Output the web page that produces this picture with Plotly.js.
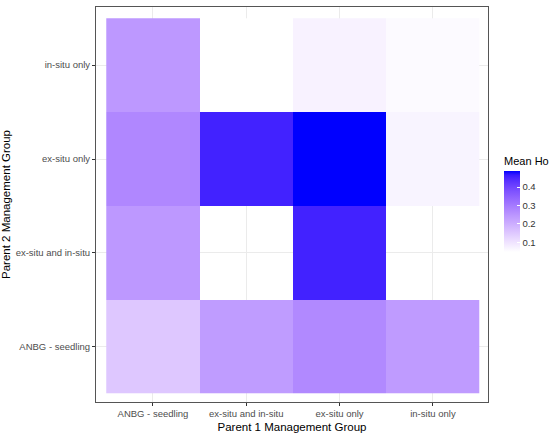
<!DOCTYPE html>
<html>
<head>
<meta charset="utf-8">
<script src="https://cdn.plot.ly/plotly-3.0.1.min.js"></script>
<style>
  html, body { margin: 0; padding: 0; background: #fff; }
  #heatmap { width: 550px; height: 434px; }
</style>
</head>
<body>
<div id="heatmap"></div>
<script>
// kategori management group (dipakai untuk kedua sumbu)
var groups = ['ANBG - seedling', 'ex-situ and in-situ', 'ex-situ only', 'in-situ only'];

// Mean Ho per baris Parent 2, urutan kolom mengikuti Parent 1 (groups)
var hoP2Anbg    = [0.155, 0.239, 0.274, 0.241];
var hoP2ExIn    = [0.246, null,  0.459, null ];
var hoP2ExOnly  = [0.278, 0.459, 0.49,  0.071];
var hoP2InSitu  = [0.246, 0.05,  0.073, 0.059];

var colorbarTicks = [0.1, 0.2, 0.3, 0.4];

// gradien putih -> biru diinterpolasi di ruang Lab (mirip scale_fill_gradient)
function toLab(c) {
    var lin = c.map(function (v) {
        v = v / 255;
        return v <= 0.04045 ? v / 12.92 : Math.pow((v + 0.055) / 1.055, 2.4);
    });
    var X = (0.4124 * lin[0] + 0.3576 * lin[1] + 0.1805 * lin[2]) / 0.95047;
    var Y = (0.2126 * lin[0] + 0.7152 * lin[1] + 0.0722 * lin[2]);
    var Z = (0.0193 * lin[0] + 0.1192 * lin[1] + 0.9505 * lin[2]) / 1.08883;
    var f = function (t) { return t > 0.008856 ? Math.cbrt(t) : 7.787 * t + 16 / 116; };
    return [116 * f(Y) - 16, 500 * (f(X) - f(Y)), 200 * (f(Y) - f(Z))];
}
function fromLab(l) {
    var fy = (l[0] + 16) / 116, fx = fy + l[1] / 500, fz = fy - l[2] / 200;
    var inv = function (t) { return t * t * t > 0.008856 ? t * t * t : (t - 16 / 116) / 7.787; };
    var X = inv(fx) * 0.95047, Y = inv(fy), Z = inv(fz) * 1.08883;
    var lin = [
        3.2406 * X - 1.5372 * Y - 0.4986 * Z,
        -0.9689 * X + 1.8758 * Y + 0.0415 * Z,
        0.0557 * X - 0.2040 * Y + 1.0570 * Z
    ];
    var rgb = lin.map(function (v) {
        v = Math.min(1, Math.max(0, v));
        v = v <= 0.0031308 ? 12.92 * v : 1.055 * Math.pow(v, 1 / 2.4) - 0.055;
        return Math.round(v * 255);
    });
    return 'rgb(' + rgb.join(',') + ')';
}
var lo = toLab([255, 255, 255]), hi = toLab([0, 0, 255]);
var scale = [];
for (var i = 0; i <= 20; i++) {
    var t = i / 20;
    scale.push([t, fromLab([0, 1, 2].map(function (k) { return lo[k] + (hi[k] - lo[k]) * t; }))]);
}

var data = [{
    type: 'heatmap',
    x: groups,
    y: groups,
    z: [hoP2Anbg, hoP2ExIn, hoP2ExOnly, hoP2InSitu],
    colorscale: scale,
    hoverongaps: false,
    colorbar: {
        title: { text: 'Mean Ho', side: 'top', font: { size: 11, color: '#000' } },
        x: 1.041, xanchor: 'left', xpad: 0,
        y: 0.505, yanchor: 'middle', ypad: 0,
        lenmode: 'pixels', len: 98,
        thickness: 16,
        outlinewidth: 0,
        ticks: 'inside', ticklen: 3, tickcolor: '#fff',
        tickvals: colorbarTicks,
        tickfont: { size: 9.5, color: '#333' }
    }
}];

var layout = {
    width: 550,
    height: 434,
    margin: { l: 96, r: 62, t: 7, b: 32, autoexpand: false },
    paper_bgcolor: '#fff',
    plot_bgcolor: '#fff',
    font: { family: 'Liberation Sans, Arial, sans-serif', size: 9.5, color: '#4d4d4d' },
    xaxis: {
        type: 'category',
        range: [-0.61, 3.59],
        showgrid: true, gridcolor: '#ebebeb', gridwidth: 1,
        zeroline: false,
        showline: true, mirror: true, linecolor: '#555', linewidth: 1,
        ticks: 'outside', ticklen: 3, tickcolor: '#333',
        tickfont: { size: 9.5, color: '#4d4d4d' },
        title: { text: 'Parent 1 Management Group', font: { size: 11.5, color: '#000' }, standoff: 4 }
    },
    yaxis: {
        type: 'category',
        range: [-0.59, 3.62],
        showgrid: true, gridcolor: '#ebebeb', gridwidth: 1,
        zeroline: false,
        showline: true, mirror: true, linecolor: '#555', linewidth: 1,
        ticks: 'outside', ticklen: 3, tickcolor: '#333',
        tickfont: { size: 9.5, color: '#4d4d4d' },
        title: { text: 'Parent 2 Management Group', font: { size: 11.5, color: '#000' }, standoff: 4 }
    }
};

Plotly.newPlot('heatmap', data, layout, { displayModeBar: false });
</script>
</body>
</html>
